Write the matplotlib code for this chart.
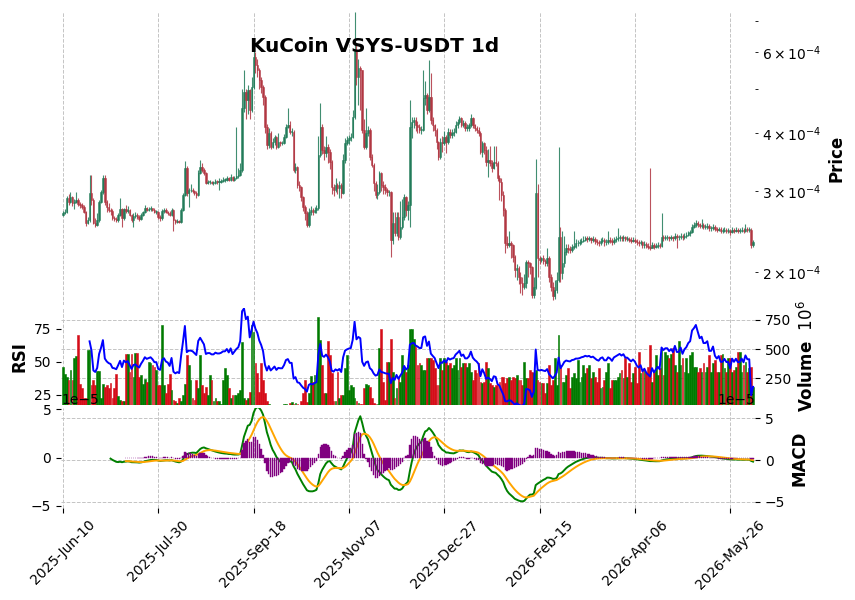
import numpy as np
import pandas as pd
import matplotlib
matplotlib.use("Agg")
import matplotlib.pyplot as plt

TITLE = "KuCoin VSYS-USDT 1d"
START_DATE = "2025-06-10"

# daily candles, prices in units of 1e-4 USDT
FIRST_OPEN = 2.66
CLOSE = [
    2.69, 2.70, 2.90, 2.84, 2.91, 2.82, 2.84, 2.87, 2.81, 2.80,
    2.77, 2.70, 2.56, 2.59, 2.97, 2.87, 2.56, 2.53, 2.59, 2.84,
    2.98, 3.20, 2.84, 2.77, 2.73, 2.71, 2.62, 2.61, 2.59, 2.66,
    2.74, 2.62, 2.74, 2.71, 2.73, 2.66, 2.59, 2.65, 2.66, 2.63,
    2.61, 2.66, 2.70, 2.75, 2.73, 2.74, 2.75, 2.73, 2.70, 2.70,
    2.63, 2.62, 2.71, 2.73, 2.70, 2.69, 2.66, 2.73, 2.59, 2.57,
    2.58, 2.57, 2.73, 2.94, 3.37, 2.97, 3.01, 3.01, 3.00, 2.97,
    2.94, 3.28, 3.38, 3.33, 3.28, 3.12, 3.14, 3.14, 3.12, 3.12,
    3.15, 3.14, 3.14, 3.15, 3.17, 3.17, 3.20, 3.17, 3.22, 3.17,
    3.20, 3.23, 3.25, 3.33, 4.54, 4.92, 4.73, 4.97, 4.50, 5.05,
    5.86, 5.63, 5.49, 5.22, 5.05, 4.80, 4.13, 3.78, 4.01, 3.74,
    3.83, 3.93, 3.74, 3.83, 3.81, 3.81, 3.93, 4.13, 4.17, 4.03,
    4.03, 3.33, 3.38, 3.09, 3.06, 2.91, 2.77, 2.69, 2.53, 2.70,
    2.73, 2.70, 2.73, 2.75, 3.59, 4.13, 3.68, 3.63, 3.74, 3.64,
    3.47, 3.06, 3.01, 3.09, 3.04, 3.09, 2.97, 3.50, 3.81, 3.87,
    3.91, 3.93, 4.34, 6.07, 5.30, 5.55, 5.49, 4.07, 3.74, 4.01,
    4.07, 3.56, 3.42, 3.12, 2.94, 2.98, 3.28, 3.09, 3.06, 3.01,
    2.98, 2.98, 2.35, 2.56, 2.43, 2.63, 2.38, 2.51, 2.63, 2.91,
    2.73, 2.80, 4.13, 4.24, 4.28, 4.17, 4.13, 4.07, 4.07, 4.78,
    4.85, 4.50, 4.80, 4.28, 4.17, 4.07, 3.83, 3.56, 3.83, 3.81,
    3.93, 3.83, 4.03, 3.97, 4.01, 4.03, 4.17, 4.24, 4.32, 4.17,
    4.22, 4.11, 4.11, 4.17, 4.32, 4.17, 4.11, 4.07, 4.01, 3.64,
    3.81, 3.68, 3.47, 3.50, 3.45, 3.37, 3.47, 3.45, 3.20, 3.14,
    2.94, 2.73, 2.31, 2.29, 2.31, 2.29, 2.16, 2.02, 2.04, 1.95,
    1.89, 1.86, 1.89, 2.10, 2.09, 2.05, 1.78, 1.86, 2.97, 2.15,
    2.12, 2.14, 2.11, 2.09, 2.15, 1.95, 1.86, 1.77, 1.83, 1.92,
    2.38, 1.99, 2.09, 2.21, 2.26, 2.24, 2.23, 2.27, 2.28, 2.31,
    2.31, 2.32, 2.34, 2.35, 2.37, 2.36, 2.37, 2.35, 2.36, 2.34,
    2.32, 2.31, 2.34, 2.35, 2.32, 2.32, 2.35, 2.34, 2.32, 2.35,
    2.36, 2.37, 2.38, 2.37, 2.38, 2.36, 2.36, 2.35, 2.34, 2.35,
    2.34, 2.32, 2.31, 2.32, 2.29, 2.30, 2.28, 2.27, 2.26, 2.29,
    2.27, 2.28, 2.29, 2.28, 2.38, 2.37, 2.38, 2.38, 2.37, 2.38,
    2.37, 2.40, 2.38, 2.38, 2.40, 2.38, 2.40, 2.41, 2.43, 2.44,
    2.51, 2.53, 2.56, 2.54, 2.52, 2.53, 2.51, 2.51, 2.52, 2.49,
    2.49, 2.51, 2.48, 2.47, 2.48, 2.46, 2.46, 2.47, 2.46, 2.46,
    2.44, 2.47, 2.46, 2.47, 2.46, 2.46, 2.47, 2.46, 2.48, 2.47,
    2.47, 2.29, 2.32,
]
HIGH = [
    2.71, 2.74, 2.93, 2.96, 2.99, 2.93, 2.88, 2.99, 2.90, 2.84,
    2.82, 2.79, 2.72, 2.63, 3.25, 3.25, 2.90, 2.62, 2.68, 2.86,
    3.02, 3.25, 3.25, 2.86, 2.82, 2.76, 2.74, 2.65, 2.63, 2.68,
    2.90, 2.76, 2.76, 2.80, 2.78, 2.74, 2.67, 2.68, 2.70, 2.68,
    2.66, 2.68, 2.72, 2.79, 2.77, 2.77, 2.78, 2.76, 2.75, 2.73,
    2.72, 2.66, 2.74, 2.75, 2.75, 2.72, 2.71, 2.76, 2.74, 2.61,
    2.61, 2.60, 2.75, 2.97, 3.48, 3.40, 3.05, 3.10, 3.04, 3.02,
    3.00, 3.33, 3.50, 3.45, 3.36, 3.30, 3.17, 3.17, 3.16, 3.15,
    3.18, 3.17, 3.20, 3.18, 3.22, 3.20, 3.24, 3.22, 3.26, 3.24,
    3.23, 4.13, 3.36, 3.45, 5.00, 5.49, 5.00, 5.10, 5.00, 5.30,
    6.10, 6.00, 5.80, 5.55, 5.30, 5.10, 4.85, 4.20, 4.10, 4.05,
    3.90, 3.97, 3.95, 4.01, 3.86, 3.86, 3.98, 4.20, 4.54, 4.25,
    4.10, 4.06, 3.45, 3.40, 3.15, 3.08, 2.93, 2.80, 2.72, 2.75,
    2.78, 2.76, 2.77, 2.80, 3.95, 4.66, 4.20, 3.75, 3.95, 3.80,
    3.70, 3.50, 3.10, 3.20, 3.12, 3.15, 3.12, 3.60, 3.90, 3.95,
    3.97, 4.00, 4.50, 7.34, 6.30, 5.80, 5.60, 5.50, 4.30, 4.54,
    4.15, 4.10, 3.60, 3.45, 3.15, 3.10, 3.32, 3.30, 3.15, 3.10,
    3.05, 3.02, 3.00, 2.70, 2.70, 2.70, 2.70, 2.85, 2.88, 2.95,
    2.93, 2.85, 4.73, 4.35, 4.35, 4.35, 4.25, 4.20, 4.15, 5.49,
    5.20, 4.90, 5.77, 5.40, 4.35, 4.20, 4.10, 3.85, 3.90, 3.95,
    4.05, 3.97, 4.10, 4.08, 4.08, 4.10, 4.25, 4.30, 4.36, 4.34,
    4.28, 4.25, 4.20, 4.22, 4.40, 4.35, 4.20, 4.15, 4.12, 4.05,
    3.85, 3.84, 3.75, 3.70, 3.75, 3.50, 3.75, 3.75, 3.48, 3.25,
    3.20, 3.00, 2.76, 2.40, 2.45, 2.33, 2.30, 2.18, 2.08, 2.06,
    2.00, 1.95, 1.98, 2.12, 2.12, 2.10, 2.06, 1.95, 3.52, 3.10,
    2.17, 2.16, 2.18, 2.13, 2.25, 2.17, 1.98, 1.90, 1.92, 2.00,
    3.74, 2.50, 2.45, 2.40, 2.30, 2.30, 2.28, 2.30, 2.45, 2.36,
    2.35, 2.36, 2.37, 2.39, 2.40, 2.39, 2.40, 2.38, 2.39, 2.38,
    2.36, 2.35, 2.37, 2.38, 2.37, 2.36, 2.45, 2.38, 2.37, 2.38,
    2.39, 2.49, 2.41, 2.40, 2.41, 2.40, 2.39, 2.38, 2.38, 2.38,
    2.37, 2.36, 2.35, 2.35, 2.34, 2.33, 2.32, 2.31, 3.36, 2.32,
    2.31, 2.31, 2.32, 2.31, 2.69, 2.41, 2.41, 2.41, 2.40, 2.41,
    2.40, 2.43, 2.42, 2.41, 2.43, 2.42, 2.43, 2.44, 2.46, 2.47,
    2.54, 2.57, 2.60, 2.58, 2.56, 2.61, 2.56, 2.54, 2.55, 2.54,
    2.52, 2.54, 2.53, 2.51, 2.51, 2.50, 2.49, 2.50, 2.49, 2.49,
    2.48, 2.50, 2.49, 2.50, 2.49, 2.49, 2.50, 2.49, 2.54, 2.50,
    2.50, 2.49, 2.35,
]
LOW = [
    2.64, 2.67, 2.69, 2.80, 2.82, 2.78, 2.74, 2.82, 2.78, 2.76,
    2.74, 2.68, 2.52, 2.54, 2.57, 2.80, 2.54, 2.51, 2.52, 2.57,
    2.82, 2.95, 2.80, 2.70, 2.70, 2.66, 2.60, 2.58, 2.57, 2.57,
    2.65, 2.50, 2.60, 2.69, 2.69, 2.64, 2.57, 2.51, 2.62, 2.61,
    2.58, 2.60, 2.64, 2.69, 2.71, 2.71, 2.72, 2.71, 2.68, 2.67,
    2.61, 2.58, 2.60, 2.69, 2.68, 2.66, 2.64, 2.65, 2.46, 2.54,
    2.55, 2.55, 2.56, 2.72, 2.92, 2.92, 2.77, 2.98, 2.97, 2.94,
    2.90, 2.93, 3.26, 3.30, 3.25, 3.10, 3.10, 3.11, 3.10, 3.09,
    3.10, 3.11, 3.02, 3.12, 3.13, 3.14, 3.15, 3.15, 3.15, 3.15,
    3.16, 3.18, 3.20, 3.23, 3.30, 4.45, 4.30, 4.40, 4.30, 4.45,
    5.00, 5.40, 5.30, 5.00, 4.90, 4.60, 4.00, 3.70, 3.72, 3.70,
    3.72, 3.78, 3.70, 3.72, 3.76, 3.77, 3.79, 3.90, 4.10, 3.98,
    3.95, 3.30, 3.28, 3.05, 3.00, 2.85, 2.72, 2.60, 2.50, 2.50,
    2.66, 2.66, 2.68, 2.69, 2.73, 3.55, 3.60, 3.50, 3.55, 3.45,
    3.35, 2.95, 2.93, 2.98, 2.96, 2.90, 2.90, 2.95, 3.45, 3.78,
    3.80, 3.85, 3.90, 4.30, 5.10, 4.60, 4.50, 4.00, 3.70, 3.70,
    3.95, 3.50, 3.38, 3.00, 2.90, 2.88, 2.95, 3.00, 2.95, 2.95,
    2.92, 2.93, 2.16, 2.30, 2.40, 2.40, 2.35, 2.36, 2.48, 2.60,
    2.65, 2.59, 2.50, 3.90, 4.10, 4.05, 4.00, 4.00, 3.98, 4.05,
    4.60, 4.40, 4.45, 4.20, 4.05, 3.95, 3.70, 3.50, 3.52, 3.65,
    3.78, 3.62, 3.80, 3.90, 3.90, 3.95, 4.00, 4.10, 4.20, 4.12,
    4.12, 4.05, 4.05, 4.05, 4.12, 4.10, 4.05, 4.00, 3.95, 3.60,
    3.55, 3.60, 3.40, 3.22, 3.40, 3.30, 3.35, 3.40, 3.15, 2.87,
    2.85, 2.65, 2.20, 2.25, 2.27, 2.15, 2.10, 1.95, 1.92, 1.88,
    1.80, 1.78, 1.84, 1.85, 1.95, 1.98, 1.76, 1.76, 1.84, 1.95,
    2.08, 2.10, 2.08, 2.06, 2.06, 1.90, 1.82, 1.74, 1.75, 1.80,
    1.90, 1.90, 1.93, 2.05, 2.18, 2.20, 2.20, 2.21, 2.24, 2.26,
    2.28, 2.29, 2.30, 2.32, 2.33, 2.32, 2.33, 2.31, 2.32, 2.30,
    2.29, 2.28, 2.29, 2.31, 2.28, 2.29, 2.30, 2.31, 2.29, 2.30,
    2.32, 2.33, 2.34, 2.34, 2.34, 2.33, 2.33, 2.32, 2.31, 2.32,
    2.31, 2.29, 2.28, 2.29, 2.26, 2.26, 2.25, 2.24, 2.23, 2.25,
    2.24, 2.25, 2.26, 2.25, 2.27, 2.34, 2.35, 2.35, 2.34, 2.35,
    2.34, 2.35, 2.25, 2.35, 2.36, 2.35, 2.36, 2.37, 2.39, 2.40,
    2.43, 2.49, 2.51, 2.51, 2.49, 2.49, 2.48, 2.48, 2.48, 2.46,
    2.46, 2.47, 2.45, 2.44, 2.45, 2.43, 2.43, 2.44, 2.43, 2.43,
    2.41, 2.43, 2.43, 2.44, 2.43, 2.43, 2.44, 2.43, 2.44, 2.44,
    2.44, 2.26, 2.27,
]
# daily volume, millions
VOLUME = [
    350, 286, 266, 237, 322, 240, 426, 440, 624, 200,
    167, 82, 82, 491, 491, 195, 237, 195, 314, 314,
    82, 200, 181, 195, 167, 209, 82, 167, 286, 96,
    68, 54, 54, 463, 463, 308, 463, 266, 470, 470,
    265, 280, 200, 246, 223, 392, 379, 364, 350, 322,
    195, 195, 703, 195, 124, 200, 290, 150, 68, 54,
    39, 82, 54, 110, 200, 449, 364, 237, 82, 68,
    237, 167, 449, 195, 124, 181, 110, 280, 237, 54,
    82, 54, 54, 30, 237, 336, 280, 167, 82, 110,
    110, 110, 124, 152, 561, 82, 68, 82, 138, 703,
    646, 379, 294, 138, 379, 237, 124, 54, 30, 25,
    22, 20, 22, 25, 20, 22, 30, 35, 25, 40,
    45, 30, 40, 30, 25, 60, 124, 237, 50, 124,
    274, 223, 280, 280, 779, 580, 364, 124, 124, 567,
    449, 294, 54, 54, 308, 82, 110, 110, 336, 449,
    152, 195, 181, 82, 54, 40, 30, 30, 167, 200,
    195, 181, 82, 40, 30, 30, 506, 675, 223, 68,
    392, 392, 590, 308, 82, 167, 251, 223, 449, 336,
    308, 364, 675, 675, 590, 520, 364, 379, 364, 322,
    322, 421, 421, 421, 406, 336, 195, 195, 426, 322,
    421, 392, 364, 379, 336, 364, 421, 322, 421, 350,
    379, 379, 350, 379, 308, 237, 322, 294, 379, 223,
    209, 223, 392, 336, 209, 195, 181, 195, 195, 223,
    266, 266, 209, 251, 266, 237, 266, 251, 280, 237,
    237, 195, 392, 251, 251, 322, 308, 300, 322, 237,
    223, 209, 209, 124, 209, 364, 195, 237, 421, 195,
    618, 364, 223, 223, 280, 336, 167, 266, 294, 251,
    406, 223, 266, 364, 294, 336, 364, 251, 308, 266,
    223, 336, 167, 181, 237, 308, 379, 167, 237, 237,
    237, 266, 294, 322, 251, 421, 266, 379, 223, 294,
    350, 209, 477, 294, 322, 322, 294, 350, 534, 223,
    308, 449, 280, 336, 506, 280, 477, 449, 421, 463,
    506, 364, 308, 567, 364, 421, 308, 421, 294, 449,
    477, 350, 350, 308, 336, 308, 379, 308, 350, 449,
    308, 379, 406, 308, 308, 449, 463, 336, 308, 421,
    421, 308, 322, 350, 477, 477, 308, 364, 392, 308,
    336, 350, 181,
]

UP, DOWN = "#1f7a58", "#b03440"
VUP, VDOWN = "#007a00", "#d50d18"
GRID = dict(color="#c4c4c4", linestyle="--", linewidth=0.7)

n = len(CLOSE)
x = np.arange(n)
dates = pd.date_range(START_DATE, periods=n, freq="D")
close = np.array(CLOSE) * 1e-4
high = np.array(HIGH) * 1e-4
low = np.array(LOW) * 1e-4
opens = np.concatenate([[FIRST_OPEN], CLOSE[:-1]]) * 1e-4
vol = np.array(VOLUME, dtype=float)
up = close >= opens

# indicators
s = pd.Series(close)
delta = s.diff()
gain = delta.clip(lower=0).ewm(alpha=1 / 14, min_periods=14, adjust=False).mean()
loss = (-delta.clip(upper=0)).ewm(alpha=1 / 14, min_periods=14, adjust=False).mean()
rsi = 100 - 100 / (1 + gain / loss)
ema12 = s.ewm(span=12, min_periods=12, adjust=False).mean()
ema26 = s.ewm(span=26, min_periods=26, adjust=False).mean()
macd = ema12 - ema26
signal = macd.ewm(span=9, min_periods=9, adjust=False).mean()
hist = macd - signal

fig = plt.figure(figsize=(8.55, 6), dpi=100)
L, W = 0.0713, 0.8117
ax_p = fig.add_axes([L, 0.4917, W, 0.4883])
ax_v = fig.add_axes([L, 0.325, W, 0.1617], sharex=ax_p)
ax_m = fig.add_axes([L, 0.1533, W, 0.1667], sharex=ax_p)

# price candles
ax_p.set_yscale("log")
cc = np.where(up, UP, DOWN)
ax_p.vlines(x, low, high, colors=cc, linewidth=0.8, alpha=0.85)
body_lo = np.minimum(opens, close)
body_h = np.maximum(np.abs(close - opens), close * 0.003)
ax_p.bar(x, body_h, bottom=body_lo, width=0.75, color=cc, edgecolor=cc,
         linewidth=0.4, alpha=0.9)
ax_p.set_ylim(1.696e-4, 7.34e-4)
ax_p.set_ylabel("Price", fontsize=12, fontweight="bold")

# volume + rsi
vc = np.where(up, VUP, VDOWN)
ax_v.bar(x, vol, width=0.92, color=vc, edgecolor=vc, linewidth=0.4)
ax_v.set_ylim(23, 852)
ax_v.set_yticks([250, 500, 750])
ax_v.set_ylabel("Volume  $10^{6}$", fontsize=12, fontweight="bold")
ax_r = ax_v.twinx()
ax_r.plot(x, rsi, color="blue", linewidth=1.4)
ax_r.set_ylim(17.4, 90.9)
ax_r.set_yticks([25, 50, 75])
ax_r.yaxis.tick_left()
ax_r.yaxis.set_label_position("left")
ax_r.set_ylabel("RSI", fontsize=12, fontweight="bold")

# macd
ax_m.plot(x, macd, color="green", linewidth=1.4)
ax_m.plot(x, signal, color="orange", linewidth=1.4)
ax_m.set_ylim(-5.76e-5, 6.24e-5)
ax_m.set_yticks([-5e-5, 0, 5e-5])
ax_m.set_ylabel("MACD", fontsize=12, fontweight="bold")
ax_h = ax_m.twinx()
ax_h.bar(x, hist, width=0.7, color="purple", edgecolor="purple", linewidth=0.3)
ax_h.set_ylim(-5.21e-5, 5.13e-5)
ax_h.set_yticks([-5e-5, 0, 5e-5])
ax_h.yaxis.tick_left()
ax_h.yaxis.set_label_position("left")

for ax in (ax_p, ax_v, ax_m):
    ax.yaxis.tick_right()
    ax.yaxis.set_label_position("right")
    ax.grid(True, which="major", **GRID)
    ax.set_axisbelow(True)
for ax in (ax_p, ax_v, ax_m, ax_r, ax_h):
    for sp in ax.spines.values():
        sp.set_visible(False)
    ax.set_facecolor("none")
ax_r.grid(False)
ax_h.grid(False)

ticks = list(range(0, n, 50))
ax_m.set_xlim(-1, n)
ax_m.set_xticks(ticks)
ax_m.set_xticklabels([dates[i].strftime("%Y-%b-%d") for i in ticks], rotation=45, ha="center")
for ax in (ax_p, ax_v, ax_r):
    ax.tick_params(axis="x", length=0, labelbottom=False)

fig.text(0.438, 0.922, TITLE, ha="center", va="center", fontsize=14.4, fontweight="bold")

fig.savefig("out.png", dpi=100)
